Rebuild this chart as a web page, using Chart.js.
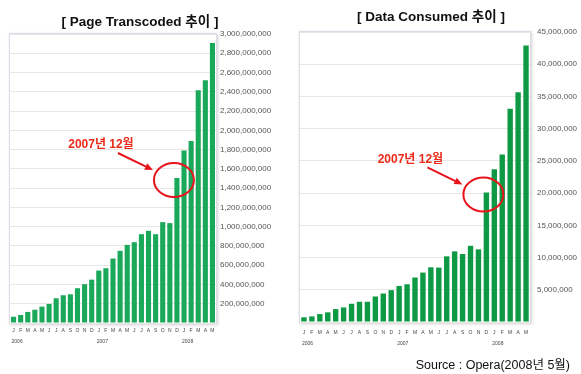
<!DOCTYPE html>
<html>
<head>
<meta charset="utf-8">
<script src="https://cdn.jsdelivr.net/npm/chart.js@4.4.1/dist/chart.umd.min.js"></script>
<style>
  body { margin: 0; background: #fff; }
  #wrap { position: relative; width: 581px; height: 374px; overflow: hidden; }
  canvas { position: absolute; top: 0; }
  .title { position: absolute; font: bold 13.5px "Liberation Sans", "Noto Sans CJK KR", sans-serif; color: #111; text-align: center; white-space: nowrap; }
  #source { position: absolute; right: 11px; top: 354px; font: 12.5px "Liberation Sans", "Noto Sans CJK KR", sans-serif; color: #111; white-space: nowrap; }
</style>
</head>
<body>
<div id="wrap">
  <canvas id="pageChart" style="left:0px" width="290" height="374"></canvas>
  <canvas id="dataChart" style="left:290px" width="291" height="374"></canvas>
  <div class="title" style="left:40px;top:10px;width:200px">[ Page Transcoded 추이 ]</div>
  <div class="title" style="left:331px;top:5px;width:200px">[ Data Consumed 추이 ]</div>
  <div id="source">Source : Opera(2008년 5월)</div>
</div>
<script>
"use strict";
// Jan 2006 .. May 2008
var months = ['J','F','M','A','M','J','J','A','S','O','N','D',
              'J','F','M','A','M','J','J','A','S','O','N','D',
              'J','F','M','A','M'];
var years = ['2006', '2007', '2008'];
var yearStart = [0, 12, 24];

var pagesTranscoded = [65000000, 83000000, 115000000, 138000000, 170000000, 198000000,
  257000000, 288000000, 298000000, 361000000, 403000000, 450000000,
  544000000, 569000000, 669000000, 749000000, 811000000, 839000000,
  922000000, 957000000, 922000000, 1047000000, 1037000000, 1505000000,
  1790000000, 1890000000, 2415000000, 2520000000, 2907000000];

var dataConsumed = [730000, 870000, 1230000, 1500000, 2000000, 2260000,
  2830000, 3140000, 3140000, 3960000, 4420000, 4940000,
  5600000, 5860000, 6900000, 7670000, 8490000, 8440000,
  10190000, 10960000, 10550000, 11830000, 11270000, 20100000,
  23700000, 26000000, 33100000, 35650000, 42900000];

var markIndex = 23;          // 2007 Dec
var markLabel = '2007년 12월';

var FONT = '"Liberation Sans", Arial, sans-serif';

var framePlugin = {
  id: 'frame',
  beforeDraw: function (chart) {
    var a = chart.chartArea, ctx = chart.ctx;
    ctx.save();
    ctx.shadowColor = 'rgba(0,0,0,0.18)';
    ctx.shadowBlur = 3;
    ctx.shadowOffsetX = 1;
    ctx.shadowOffsetY = 1;
    ctx.fillStyle = '#fff';
    ctx.fillRect(a.left - 1, a.top - 1, a.right - a.left + 2, a.bottom - a.top + 2);
    ctx.restore();
    ctx.save();
    ctx.strokeStyle = '#dcdce8';
    ctx.lineWidth = 1;
    ctx.strokeRect(a.left - 0.5, a.top - 0.5, a.right - a.left + 1, a.bottom - a.top + 1);
    ctx.restore();
  }
};

var yearPlugin = {
  id: 'years',
  afterDraw: function (chart, args, opts) {
    var x = chart.scales.x, ctx = chart.ctx;
    ctx.save();
    ctx.font = '5px ' + FONT;
    ctx.fillStyle = '#444';
    ctx.textAlign = 'left';
    ctx.textBaseline = 'middle';
    for (var i = 0; i < years.length; i++) {
      ctx.fillText(years[i], x.getPixelForValue(yearStart[i]) - 2, chart.chartArea.bottom + opts.offset);
    }
    ctx.restore();
  }
};

var markPlugin = {
  id: 'mark',
  afterDatasetsDraw: function (chart) {
    var bar = chart.getDatasetMeta(0).data[markIndex];
    var cx = bar.x - 3, cy = bar.y + 2;
    var ctx = chart.ctx;
    ctx.save();
    ctx.strokeStyle = '#e8141c';
    ctx.fillStyle = '#e8141c';
    ctx.lineWidth = 2;
    ctx.beginPath();
    ctx.ellipse(cx, cy, 20, 17, 0, 0, Math.PI * 2);
    ctx.stroke();
    // arrow
    var x0 = cx - 56, y0 = cy - 27, x1 = cx - 21, y1 = cy - 10;
    var ang = Math.atan2(y1 - y0, x1 - x0);
    ctx.beginPath();
    ctx.moveTo(x0, y0);
    ctx.lineTo(x1 - 6 * Math.cos(ang), y1 - 6 * Math.sin(ang));
    ctx.stroke();
    ctx.beginPath();
    ctx.moveTo(x1, y1);
    ctx.lineTo(x1 - 8 * Math.cos(ang) + 3.5 * Math.sin(ang), y1 - 8 * Math.sin(ang) - 3.5 * Math.cos(ang));
    ctx.lineTo(x1 - 8 * Math.cos(ang) - 3.5 * Math.sin(ang), y1 - 8 * Math.sin(ang) + 3.5 * Math.cos(ang));
    ctx.closePath();
    ctx.fill();
    ctx.font = 'bold 12px "Liberation Sans", "Noto Sans CJK KR", sans-serif';
    ctx.fillStyle = '#ee2a1a';
    ctx.textAlign = 'center';
    ctx.textBaseline = 'middle';
    ctx.fillText(markLabel, cx - 73, cy - 35);
    ctx.restore();
  }
};

function makeChart(id, values, o) {
  return new Chart(document.getElementById(id), {
    type: 'bar',
    data: {
      labels: months,
      datasets: [{
        data: values,
        backgroundColor: o.color,
        borderWidth: 0,
        barPercentage: o.barPct,
        categoryPercentage: 1
      }]
    },
    options: {
      responsive: false,
      animation: false,
      events: [],
      layout: { padding: { left: 10, top: o.top, right: 0, bottom: o.bottom } },
      plugins: {
        legend: { display: false },
        tooltip: { enabled: false },
        years: { offset: o.yearOffset }
      },
      scales: {
        x: {
          grid: { display: false, drawTicks: false },
          border: { display: false },
          ticks: {
            autoSkip: false, maxRotation: 0, padding: o.tickPad,
            font: { size: 5, family: FONT }, color: '#444'
          },
          afterFit: function (s) { s.height = 16; }
        },
        y: {
          position: 'right',
          min: 0,
          max: o.max,
          grid: { color: '#e6e6e6', drawTicks: false },
          border: { display: false },
          ticks: {
            stepSize: o.step,
            padding: o.labelPad,
            font: { size: 8, family: FONT },
            color: '#555',
            callback: function (v) { return v === 0 ? '' : v.toLocaleString('en-US'); }
          },
          afterFit: function (s) { s.width = o.axisWidth; }
        }
      }
    },
    plugins: [framePlugin, yearPlugin, markPlugin]
  });
}

makeChart('pageChart', pagesTranscoded, {
  color: '#1aa85a', barPct: 0.72, top: 34, bottom: 35,
  max: 3000000000, step: 200000000, axisWidth: 74, labelPad: 4,
  tickPad: 5, yearOffset: 19
});

makeChart('dataChart', dataConsumed, {
  color: '#0e9a45', barPct: 0.68, top: 32, bottom: 36,
  max: 45000000, step: 5000000, axisWidth: 51, labelPad: 7,
  tickPad: 8, yearOffset: 22
});
</script>
</body>
</html>
